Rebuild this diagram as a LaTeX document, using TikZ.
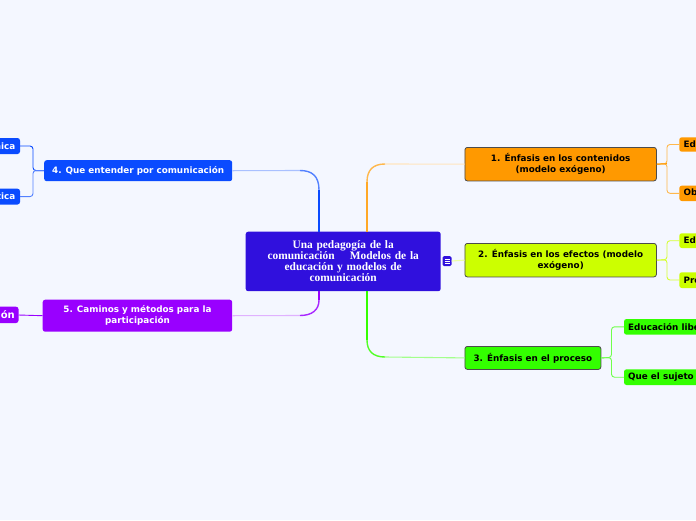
\documentclass[tikz,border=0pt]{standalone}
\usepackage{fontspec}
\setmainfont{DejaVu Sans}
\newfontfamily\titlefont{Liberation Serif}
\definecolor{paper}{HTML}{F4F7FF}
\definecolor{cc}{HTML}{3010DD}
\definecolor{co}{HTML}{FF9900}
\definecolor{cl}{HTML}{CCFF00}
\definecolor{cg}{HTML}{33FF00}
\definecolor{cb}{HTML}{0A4BFF}
\definecolor{cp}{HTML}{9900FF}
\tikzset{
  x=1pt,y=-1pt,
  box/.style={rounded corners=2.5pt,inner sep=0pt,align=center,font=\fontsize{8.8}{11}\selectfont\bfseries,anchor=north west},
  dark/.style={box,draw=black!70,line width=0.8pt,text=black},
  lite/.style={box,text=white},
  leaf/.style={inner sep=0pt,font=\fontsize{8.8}{11}\selectfont\bfseries},
  trunk/.style={line width=1.8pt},
  curveline/.style={line width=1.4pt},
  pale/.style={line width=1.1pt},
  twig/.style={line width=0.9pt}
}
\newcommand{\bx}[7]{\node[#1,fill=#2,minimum width=#5 pt,minimum height=#6 pt] (#7) at (#3,#4)}
\begin{document}
\begin{tikzpicture}
\useasboundingbox (0,0) rectangle (696,520);
\fill[paper] (0,0) rectangle (696,520);
\clip (0,0) rectangle (696,520);

% main nodes
\node[box,fill=cc,text=white,minimum width=195pt,minimum height=59.5pt,font=\titlefont\fontsize{11.4}{11}\selectfont\bfseries,text width=185pt] (c) at (245.5,231.5)
 {Una pedagogía de la\\comunicación\quad\ Modelos de la\\educación y modelos de\\comunicación};
\bx{dark}{co}{464.5}{147}{191.5}{33.5}{n1} {1. Énfasis en los contenidos\\(modelo exógeno)};
\bx{dark}{cl}{464.5}{243}{191.5}{33.5}{n2} {2. Énfasis en los efectos (modelo\\exógeno)};
\bx{dark}{cg}{464.5}{346}{136}{23}{n3} {3. Énfasis en el proceso};
\bx{lite}{cb}{44}{160}{188}{21}{n4} {4. Que entender por comunicación};
\bx{lite}{cp}{42.5}{299.5}{189.5}{32}{n5} {5. Caminos y métodos para la\\participación};

% icon on central node
\node[rounded corners=1.5pt,fill=cc,minimum width=9pt,minimum height=10pt,inner sep=0pt] (ic) at (447,261) {};
\draw[white,line width=0.6pt] (444.5,258.8)--(449.5,258.8) (444.5,261)--(449.5,261) (444.5,263.2)--(449.5,263.2);

% sub nodes (cut by the picture's edge)
\path[fill=cb,rounded corners=2.5pt] (-10,138) rectangle (20,154);
\node[leaf,anchor=east,text=white] (s4a) at (15.5,146) {nica};
\path[fill=cb,rounded corners=2.5pt] (-10,188.7) rectangle (20,204.5);
\node[leaf,anchor=east,text=white] (s4b) at (15.5,196.6) {tica};
\path[fill=cp,rounded corners=2.5pt] (-10,306.7) rectangle (18.5,323);
\node[leaf,anchor=east,text=white,font=\fontsize{10}{11}\selectfont\bfseries] (s5) at (15,315) {ción};
\path[fill=co,rounded corners=2.5pt] (679.3,137.3) rectangle (710,151.7);
\node[leaf,anchor=west] (s1a) at (683.5,144.5) {Edu};
\path[fill=co,rounded corners=2.5pt] (679.3,185.7) rectangle (710,201);
\node[leaf,anchor=west] (s1b) at (683.5,193.5) {Obj};
\path[fill=cl,rounded corners=2.5pt] (679.3,233.3) rectangle (710,248);
\node[leaf,anchor=west] (s2a) at (683.5,240.7) {Edu};
\path[fill=cl,rounded corners=2.5pt] (679.3,272.3) rectangle (710,288);
\node[leaf,anchor=west] (s2b) at (683.5,280) {Pro};
\path[fill=cg,rounded corners=2.5pt] (624,319) rectangle (710,334.7);
\node[leaf,anchor=west] (s3a) at (628,326.8) {Educación liberadora};
\path[fill=cg,rounded corners=2.5pt] (624,369.3) rectangle (710,385);
\node[leaf,anchor=west] (s3b) at (628,377.2) {Que el sujeto participe};

% trunk connectors
\draw[pale,cb!35] (n4.east) -- (300,170.5);
\draw[curveline,cb!70] (300,170.5) .. controls (312,170.5) and (319,176) .. (319,190);
\draw[trunk,cb] (319,190) -- (319,231.5);
\draw[pale,cp!30] (n5.east) -- (300,315.5);
\draw[curveline,cp!85] (300,315.5) .. controls (312,315.5) and (319,310) .. (319,300);
\draw[trunk,cp] (319,300) -- (319,291);
\draw[pale,co!25] (n1.west) -- (385,164);
\draw[curveline,co!70] (385,164) .. controls (373,164) and (367,170) .. (367,182);
\draw[trunk,co!85] (367,182) -- (367,231.5);
\draw[pale,cg!45] (n3.west) -- (385,357);
\draw[curveline,cg!85] (385,357) .. controls (373,357) and (367,351) .. (367,340);
\draw[trunk,cg] (367,340) -- (367,291);
\draw[pale,cl!35] (ic.east) -- (n2.west);

% twigs
\draw[twig,co!70,rounded corners=3pt] (n1.east) -- (667,163.7) -- (667,144.5) -- (679.3,144.5);
\draw[twig,co!70,rounded corners=3pt] (n1.east) -- (667,163.7) -- (667,193.3) -- (679.3,193.3);
\draw[line width=1pt,co] (n1.east) -- (667,163.7);
\draw[twig,cl!80!white,rounded corners=3pt] (n2.east) -- (667,259.7) -- (667,240.7) -- (679.3,240.7);
\draw[twig,cl!80!white,rounded corners=3pt] (n2.east) -- (667,259.7) -- (667,280) -- (679.3,280);
\draw[twig,cg!70,rounded corners=3pt] (n3.east) -- (611.5,357.5) -- (611.5,326.8) -- (624,326.8);
\draw[twig,cg!70,rounded corners=3pt] (n3.east) -- (611.5,357.5) -- (611.5,377.2) -- (624,377.2);
\draw[twig,cb,rounded corners=3pt] (n4.west) -- (33,170.5) -- (33,146) -- (20,146);
\draw[twig,cb!70,rounded corners=3pt] (n4.west) -- (33,170.5) -- (33,196.6) -- (20,196.6);
\draw[twig,cp] (n5.west) -- (18.5,315);
\end{tikzpicture}
\end{document}
